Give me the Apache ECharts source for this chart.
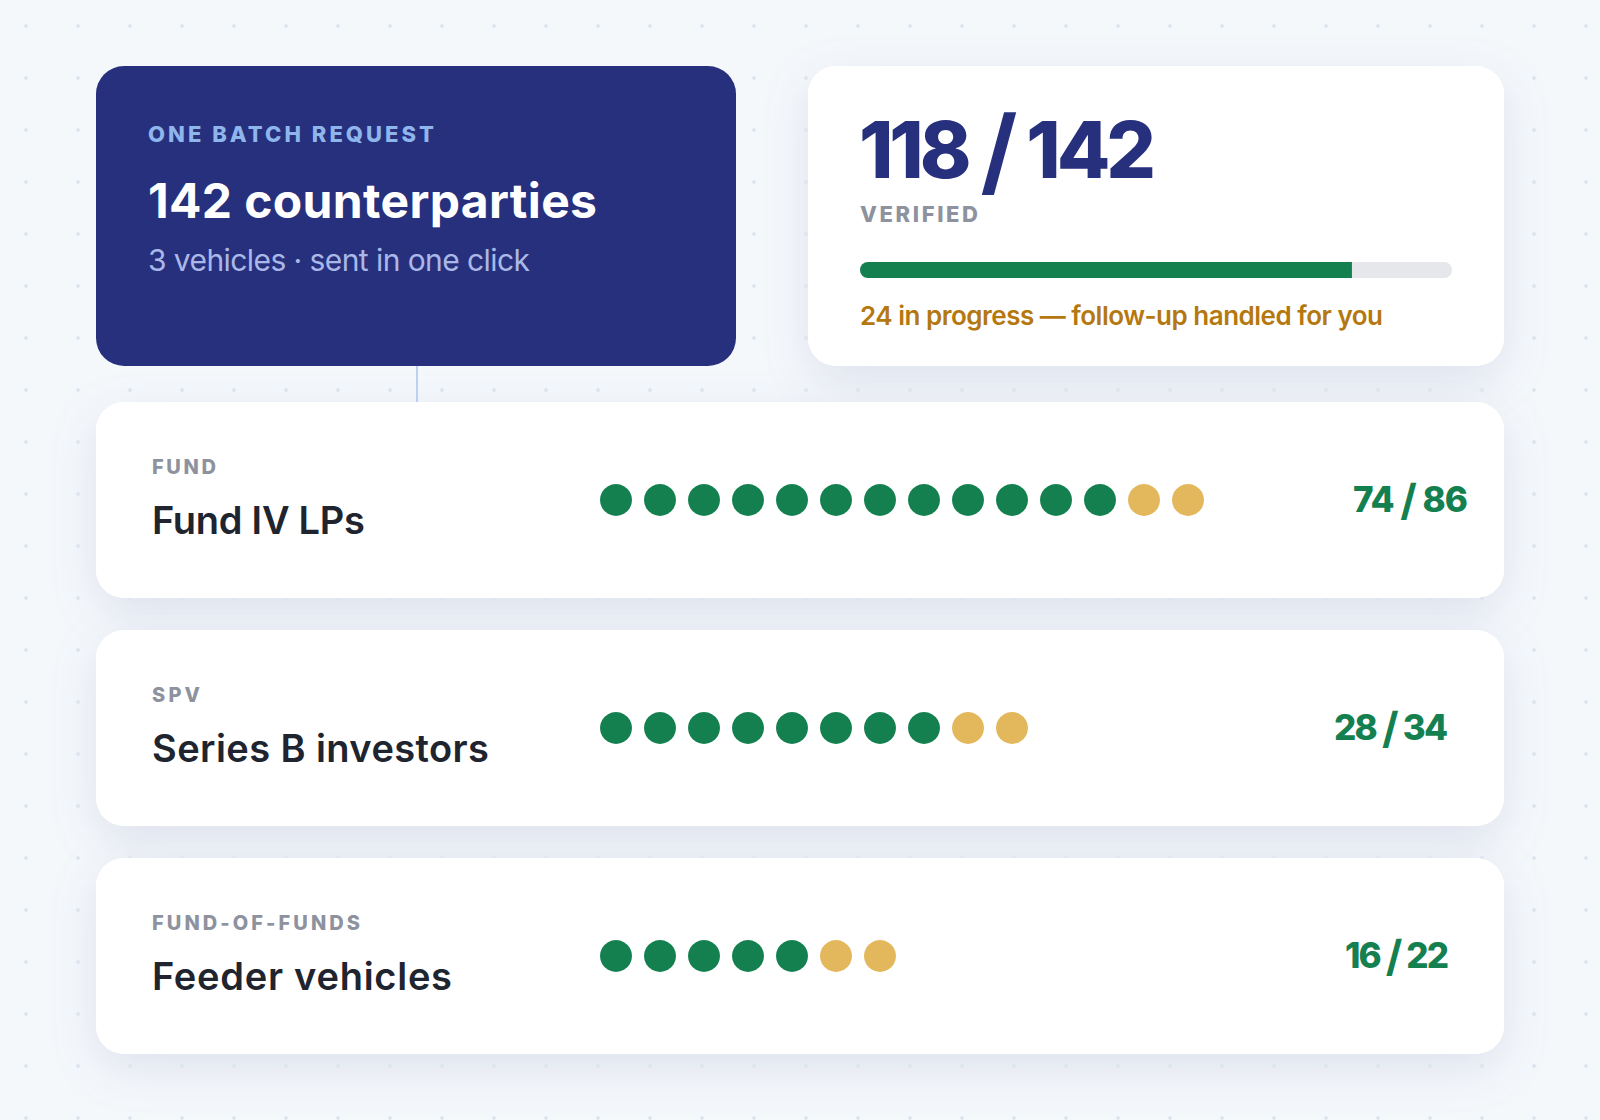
<!DOCTYPE html>
<html>
<head>
<meta charset="utf-8">
<title>Batch verification</title>
<script src="https://cdn.jsdelivr.net/npm/echarts@6/dist/echarts.min.js"></script>
<style>
  html, body { margin: 0; background: #f5f8fb; }
  #c { width: 1600px; height: 1120px; }
</style>
</head>
<body>
<div id="c"></div>
<script>
// ---------- data ----------
const rowTags = ["FUND", "SPV", "FUND-OF-FUNDS"];
const rowNames = ["Fund IV LPs", "Series B investors", "Feeder vehicles"];
const rowVerified = [74, 28, 16];
const rowTotals = [86, 34, 22];
const greenDots = [12, 8, 5];
const goldDots = [2, 2, 2];
const totalVerified = 118;
const totalCounterparties = 142;

// ---------- colours ----------
const NAVY = "#27307d";
const GREEN = "#15804f";
const GOLD = "#e3b85c";
const GREY = "#8d929e";
const INK = "#20242f";
const SHADOW_FILL = "#fffffe"; // marks the rects that get the css drop-shadow
const FONT = "Inter, sans-serif";

// dots per row -> scatter points [column, row]
const greenPoints = [];
const goldPoints = [];
rowNames.forEach((_, r) => {
  for (let i = 0; i < greenDots[r]; i++) greenPoints.push([i, r]);
  for (let i = 0; i < goldDots[r]; i++) goldPoints.push([greenDots[r] + i, r]);
});

// width the text should end up with, keyed by string (letter-spacing is fitted after render)
const fitWidths = {};

// y is the text baseline
function txt(text, x, y, size, weight, fill, width) {
  if (width) fitWidths[text] = width;
  return {
    type: "text", z: 10, x: x, y: y - size * 0.36,
    style: {
      text: text, fill: fill, verticalAlign: "middle", align: "left",
      fontFamily: FONT, fontSize: size, fontWeight: weight,
    },
  };
}

function card(b, fill, z) {
  return { type: "rect", z: z, shape: { x: b[0], y: b[1], width: b[2], height: b[3], r: 28 }, style: { fill: fill } };
}

const graphics = [];

// dotted page background
for (let gx = 26; gx < 1600; gx += 52) {
  for (let gy = 26; gy < 1120; gy += 52) {
    graphics.push({ type: "circle", z: 3, shape: { cx: gx, cy: gy, r: 2 }, style: { fill: "#dde5ef" } });
  }
}

// connector under the navy card
graphics.push({ type: "rect", z: 3, shape: { x: 416, y: 366, width: 2, height: 36 }, style: { fill: "#bcd0f5" } });

// shadows first, so the dots sit on them and the cards on the dots
const rowOffsets = rowNames.map((_, r) => 228 * r);
const whiteBoxes = [[808, 66, 696, 300]].concat(rowOffsets.map((off) => [96, 402 + off, 1408, 196]));
whiteBoxes.forEach((b) => graphics.push(card(b, SHADOW_FILL, 2)));
graphics.push(card([96, 66, 640, 300], NAVY, 4));
whiteBoxes.forEach((b) => graphics.push(card(b, "#ffffff", 4)));

// top cards text
graphics.push(txt("ONE BATCH REQUEST", 148, 142, 22, 800, "#8fb6ec", 286));
graphics.push(txt("142 counterparties", 148, 218, 48, 700, "#fff", 449));
graphics.push(txt("3 vehicles · sent in one click", 148, 271, 30, 400, "#aab8e8", 382));
graphics.push(txt(totalVerified + " / " + totalCounterparties, 859, 178, 78, 800, NAVY, 297));
graphics.push(txt("VERIFIED", 860, 222, 22, 800, GREY, 118));
graphics.push(txt((totalCounterparties - totalVerified) + " in progress — follow-up handled for you", 860, 325, 26, 600, "#b5780f", 523));

// row cards text
const countLeft = [1353, 1334, 1345];
rowNames.forEach((name, r) => {
  const off = rowOffsets[r];
  graphics.push(txt(rowTags[r], 152, 474 + off, 20, 800, GREY, rowTags[r].length * 16));
  graphics.push(txt(name, 152, 534 + off, 38, 600, INK, [213, 337, 300][r]));
  graphics.push(txt(rowVerified[r] + " / " + rowTotals[r], countLeft[r], 512 + off, 35, 800, GREEN, [115, 114, 104][r]));
});

const chart = echarts.init(document.getElementById("c"), null, { renderer: "svg", width: 1600, height: 1120 });

chart.setOption({
  animation: false,
  backgroundColor: "#f5f8fb",
  graphic: { elements: graphics },
  grid: [
    { left: 616, top: 500, width: 572, height: 456 },
    { left: 860, top: 262, width: 592, height: 16 },
  ],
  xAxis: [
    { gridIndex: 0, type: "value", min: 0, max: 13, show: false },
    { gridIndex: 1, type: "value", min: 0, max: totalCounterparties, show: false },
  ],
  yAxis: [
    { gridIndex: 0, type: "value", min: 0, max: 2, inverse: true, show: false },
    { gridIndex: 1, type: "category", data: ["verified"], show: false },
  ],
  series: [
    {
      name: "Track", type: "bar", xAxisIndex: 1, yAxisIndex: 1, z: 5,
      barWidth: 16, barGap: "-100%", silent: true,
      data: [totalCounterparties],
      itemStyle: { color: "#e5e7eb", borderRadius: 8 },
    },
    {
      name: "Verified total", type: "bar", xAxisIndex: 1, yAxisIndex: 1, z: 6,
      barWidth: 16, barGap: "-100%", silent: true,
      data: [totalVerified],
      itemStyle: { color: GREEN, borderRadius: [8, 0, 0, 8] },
    },
    {
      name: "Verified", type: "scatter", xAxisIndex: 0, yAxisIndex: 0, z: 6,
      symbolSize: 32, clip: false, silent: true, data: greenPoints,
      itemStyle: { color: GREEN, opacity: 1 },
    },
    {
      name: "In progress", type: "scatter", xAxisIndex: 0, yAxisIndex: 0, z: 6,
      symbolSize: 32, clip: false, silent: true, data: goldPoints,
      itemStyle: { color: GOLD, opacity: 1 },
    },
  ],
});

// the ratio slashes are taller and lighter than the digits
function enlargeSlash(t) {
  if (t.querySelector("tspan") || !/^\d+ \/ \d+$/.test(t.textContent)) return;
  const parts = t.textContent.split("/");
  t.textContent = parts[0];
  const slash = document.createElementNS("http://www.w3.org/2000/svg", "tspan");
  slash.textContent = "/";
  slash.style.fontSize = "1.22em";
  slash.style.fontWeight = "700";
  t.appendChild(slash);
  t.appendChild(document.createTextNode(parts[1]));
}

// zrender text has no tracking, so fit the svg text to its measured width
function polish() {
  document.querySelectorAll("#c text").forEach((t) => {
    const want = fitWidths[t.textContent];
    if (!want) return;
    enlargeSlash(t);
    t.style.letterSpacing = "0px";
    const n = t.textContent.length;
    t.style.letterSpacing = ((want - t.getComputedTextLength()) / (n - 1)).toFixed(3) + "px";
  });
  document.querySelectorAll('#c path[fill="' + SHADOW_FILL + '"]').forEach((p) => {
    p.style.filter = "drop-shadow(0 14px 24px rgba(39,48,125,0.11))";
  });
}
polish();
chart.on("finished", polish);
</script>
</body>
</html>
